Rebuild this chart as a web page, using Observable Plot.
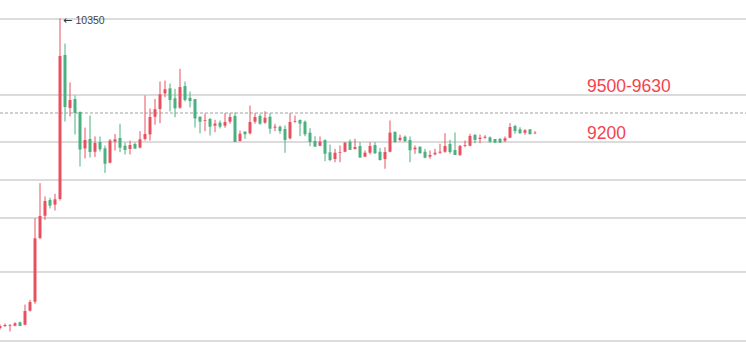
<!DOCTYPE html>
<html>
<head>
<meta charset="utf-8">
<script src="https://cdn.jsdelivr.net/npm/d3@7"></script>
<script src="https://cdn.jsdelivr.net/npm/@observablehq/plot@0.6"></script>
<style>
  html, body { margin: 0; padding: 0; background: #fff; }
  #chart svg { display: block; }
</style>
</head>
<body>
<div id="chart"></div>
<script>
// Candle values (price), one entry per session
const opens  = [7462,7480,7483,7483,7515,7492,7623,7707,8300,8508,8654,8611,8664,10005,9512,9595,9474,9134,9223,9104,
                9195,9136,9002,9198,9232,9160,9130,9176,9143,9223,9266,9430,9502,9648,9695,9602,9514,9716,9607,9595,
                9430,9393,9409,9347,9375,9347,9384,9437,9204,9291,9276,9384,9437,9375,9430,9328,9337,9316,9229,9384,
                9400,9384,9281,9204,9160,9213,9099,9036,9095,9104,9198,9130,9157,9058,9095,9167,9104,9036,9104,9291,
                9213,9244,9213,9127,9151,9104,9058,9080,9095,9104,9176,9120,9074,9160,9160,9260,9223,9235,9238,9223,
                9223,9207,9235,9344,9313,9281,9313,9276];
const highs  = [7499,7508,7504,7520,7527,7685,7729,8489,8816,8692,8680,8717,10350,10117,9754,9633,9484,9334,9446,9251,
                9251,9167,9227,9274,9369,9195,9213,9195,9300,9633,9512,9600,9763,9772,9744,9695,9881,9763,9670,9595,
                9437,9465,9423,9406,9400,9468,9468,9474,9306,9300,9539,9468,9462,9486,9468,9369,9353,9353,9468,9446,
                9409,9400,9328,9253,9251,9223,9176,9136,9167,9198,9223,9229,9198,9120,9198,9198,9145,9151,9400,9291,
                9269,9260,9251,9167,9157,9136,9120,9136,9183,9281,9220,9288,9171,9213,9276,9276,9269,9263,9251,9223,
                9238,9251,9375,9360,9337,9319,9316,9300];
const lows   = [7452,7476,7434,7483,7490,7492,7620,7692,8294,8474,8580,8561,8654,9390,9437,9269,8971,9046,9055,9060,
                9111,8911,8999,9120,9104,9083,9083,9134,9139,9213,9213,9360,9375,9617,9484,9430,9509,9577,9521,9334,
                9279,9300,9260,9291,9325,9332,9369,9204,9204,9229,9269,9369,9360,9369,9276,9300,9276,9099,9223,9378,
                9253,9253,9160,9160,9160,9020,9020,9011,9011,9104,9130,9130,9058,9058,9083,9089,9027,8950,9104,9192,
                9204,9198,9011,9089,9092,9048,9043,9074,9089,9099,9089,9078,9069,9151,9160,9188,9188,9229,9192,9192,
                9192,9198,9235,9276,9276,9266,9274,9272];
const closes = [7490,7499,7499,7515,7490,7629,7713,8307,8515,8654,8611,8670,10005,9530,9595,9474,9134,9223,9111,9195,
                9136,9002,9218,9229,9151,9130,9176,9143,9229,9279,9437,9509,9648,9695,9595,9518,9716,9595,9586,9423,
                9393,9409,9347,9375,9347,9390,9437,9204,9281,9276,9390,9437,9375,9430,9328,9347,9306,9223,9390,9400,
                9375,9276,9204,9160,9207,9095,9036,9104,9111,9198,9130,9157,9058,9104,9167,9099,9036,9111,9291,9204,
                9244,9213,9127,9151,9099,9058,9083,9104,9114,9167,9111,9083,9167,9176,9260,9223,9244,9253,9207,9198,
                9198,9238,9344,9306,9285,9313,9276,9291];

// Horizontal reference levels
const gridLevels = [10350, 9642, 9204, 8850, 8496, 7993, 7350];
const dashedLevel = [9474];
// Zone labels
const zoneLabels = ["9500-9630", "9200"];
const zoneLevels = [9642, 9204];
const peakArrow = "←";

const red = "#e8505f";
const green = "#4caf80";

const candles = opens.map((o, i) => ({i, o, h: highs[i], l: lows[i], c: closes[i]}));
const peakIndex = d3.maxIndex(highs);
const peak = [{i: peakIndex, v: highs[peakIndex]}];
const zones = zoneLabels.map((t, k) => ({t, v: zoneLevels[k], x: 117.4}));

const color = d => d.c >= d.o ? red : green;

const chart = Plot.plot({
  width: 746,
  height: 357,
  marginTop: 0, marginBottom: 0, marginLeft: 0, marginRight: 0,
  x: {domain: [0, 107], range: [-0.5, 534.5], axis: null},
  y: {domain: [7350, 10350], range: [340.5, 18.5], axis: null},
  style: {fontFamily: "'Liberation Sans', Arial, sans-serif", background: "#fff"},
  marks: [
    Plot.ruleY(gridLevels, {stroke: "#b8b8b8", strokeWidth: 1}),
    Plot.ruleY(dashedLevel, {stroke: "#a0a0a0", strokeWidth: 1, strokeDasharray: "3,2"}),
    Plot.ruleX(candles, {x: "i", y1: "l", y2: "h", stroke: color, strokeWidth: 1}),
    Plot.ruleX(candles, {x: "i", y1: "o", y2: "c", stroke: color, strokeWidth: 3, insetTop: -0.5, insetBottom: -0.5}),
    Plot.text(peak, {x: "i", y: "v", text: () => peakArrow, textAnchor: "start", dx: 3, dy: 1.5, fontSize: 11, fontFamily: "'DejaVu Sans', sans-serif", fill: "#333"}),
    Plot.text(peak, {x: "i", y: "v", text: d => String(d.v), textAnchor: "start", dx: 15.5, dy: 2, fontSize: 10.5, fill: "#444"}),
    Plot.text(zones, {x: "x", y: "v", text: "t", textAnchor: "start", lineAnchor: "bottom", dy: -3, fontSize: 17.5, fill: "#f5434e"})
  ]
});
document.getElementById("chart").appendChild(chart);
</script>
</body>
</html>
